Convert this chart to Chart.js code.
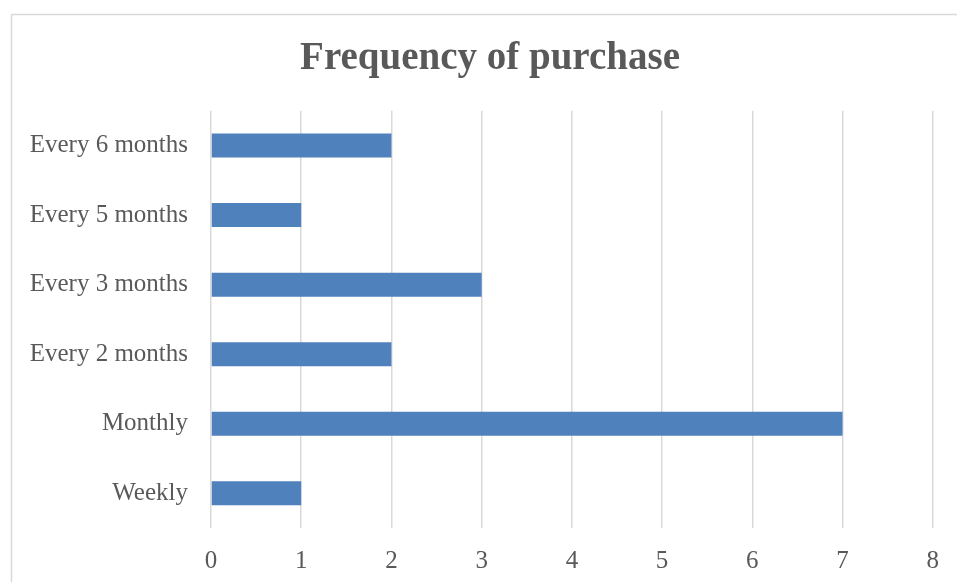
<!DOCTYPE html>
<html>
<head>
<meta charset="utf-8">
<script src="https://cdn.jsdelivr.net/npm/chart.js@4/dist/chart.umd.min.js"></script>
<style>
  html, body { margin: 0; padding: 0; background: #ffffff; }
  #wrap { position: relative; width: 957px; height: 582px; }
</style>
</head>
<body>
<div id="wrap"><canvas id="c" width="957" height="582"></canvas></div>
<script>
const categories = ["Every 6 months", "Every 5 months", "Every 3 months", "Every 2 months", "Monthly", "Weekly"];
const counts = [2, 1, 3, 2, 7, 1];
const xTicks = [0, 1, 2, 3, 4, 5, 6, 7, 8];
const chartTitle = "Frequency of purchase";

const FONT = "'Liberation Serif', 'Times New Roman', serif";
const TXT = "#595959";

const frame = {
  id: 'frame',
  beforeDraw(chart) {
    const ctx = chart.ctx;
    ctx.save();
    ctx.fillStyle = '#ffffff';
    ctx.fillRect(0, 0, chart.width, chart.height);
    ctx.strokeStyle = '#d9d9d9';
    ctx.lineWidth = 1.5;
    ctx.beginPath();
    ctx.moveTo(11.5, chart.height);
    ctx.lineTo(11.5, 14.5);
    ctx.lineTo(chart.width, 14.5);
    ctx.stroke();
    ctx.restore();
  }
};

new Chart(document.getElementById('c'), {
  type: 'bar',
  data: {
    labels: categories,
    datasets: [{
      data: counts,
      xAxisID: 'x',
      yAxisID: 'y',
      backgroundColor: '#4f81bd',
      borderWidth: 0,
      categoryPercentage: 1,
      barPercentage: 0.345
    }]
  },
  plugins: [frame],
  options: {
    indexAxis: 'y',
    responsive: false,
    animation: false,
    layout: { padding: { left: 23, right: 0, top: 0, bottom: 0 } },
    plugins: {
      legend: { display: false },
      tooltip: { enabled: false },
      title: {
        display: true,
        text: chartTitle,
        color: TXT,
        font: { family: FONT, size: 39, weight: 'bold' },
        padding: { top: 36, bottom: 28 }
      }
    },
    scales: {
      x: {
        min: xTicks[0],
        max: xTicks[xTicks.length - 1],
        afterBuildTicks(scale) { scale.ticks = xTicks.map(v => ({ value: v })); },
        afterFit(scale) { scale.height = 54; },
        ticks: {
          color: TXT,
          font: { family: FONT, size: 25 },
          padding: 18,
          maxRotation: 0
        },
        grid: { color: '#d9d9d9', lineWidth: 1.5, drawTicks: false },
        border: { display: false }
      },
      y: {
        position: 'left',
        afterFit(scale) { scale.width = 188; },
        ticks: {
          color: TXT,
          font: { family: FONT, size: 25 },
          padding: 23
        },
        grid: { display: false, drawTicks: false },
        border: { display: false }
      },
      yRight: {
        type: 'category',
        axis: 'y',
        position: 'right',
        afterFit(scale) { scale.width = 22; },
        ticks: { display: false },
        grid: { display: false, drawTicks: false },
        border: { display: false }
      }
    }
  }
});
</script>
</body>
</html>
